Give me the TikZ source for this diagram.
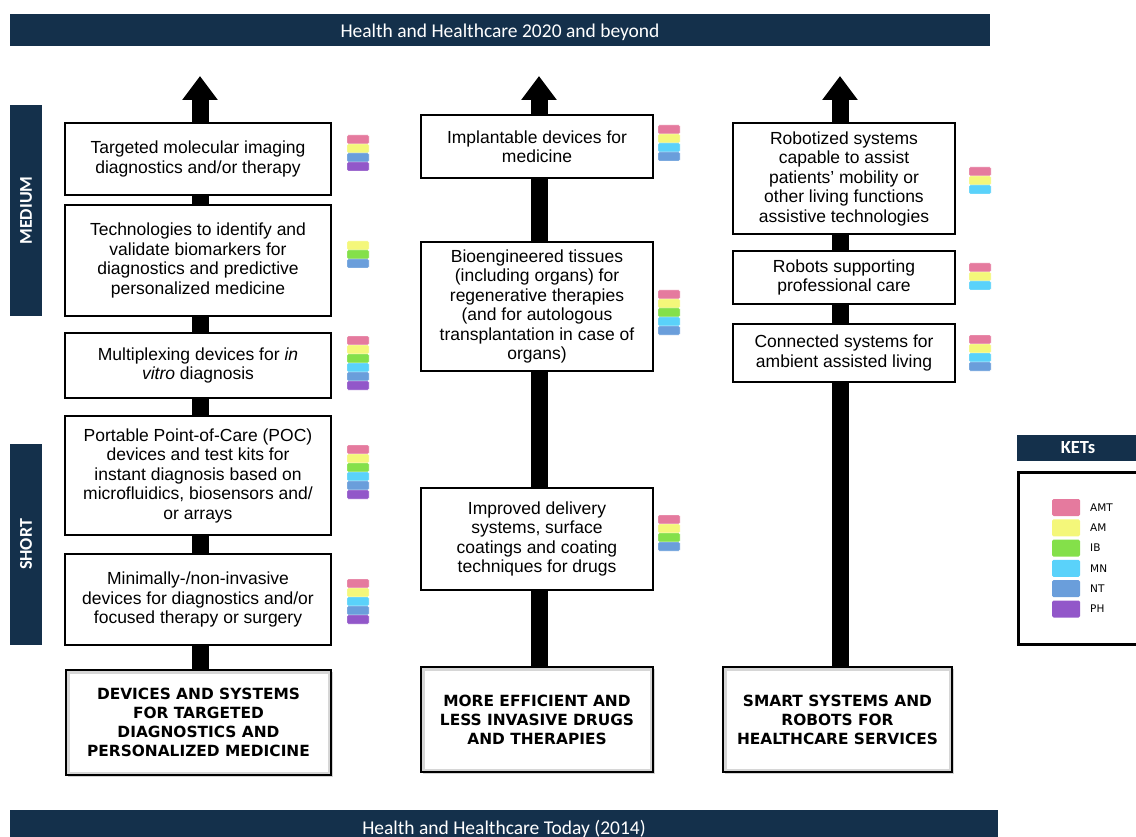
\documentclass[tikz,border=0pt]{standalone}
\usepackage{fontspec}
\setmainfont{Liberation Sans}
\newfontfamily\calfont{Carlito}
\newfontfamily\verdfont{DejaVu Sans}
\usetikzlibrary{arrows.meta,shadows,backgrounds}
\definecolor{navy}{HTML}{14304B}
\definecolor{cAMT}{HTML}{E57A9E}
\definecolor{cAM}{HTML}{F4F77A}
\definecolor{cIB}{HTML}{84E04A}
\definecolor{cMN}{HTML}{5AD2FA}
\definecolor{cNT}{HTML}{6A9EDB}
\definecolor{cPH}{HTML}{9257C9}
\newcommand{\ketstack}[3]{%
  \foreach \cc [count=\ii from 0] in {#3} {%
    \fill[\cc, draw=white, line width=0.4pt, rounded corners=1pt] (#1,#2+\ii*9) rectangle ++(22,9);}}
\begin{document}
\begin{tikzpicture}[x=1pt,y=-1pt,
  banner/.style={fill=navy, text=white, inner sep=0pt, font=\calfont\fontsize{19.5}{20}\selectfont},
  sidelabel/.style={fill=navy, text=white, inner sep=0pt, font=\calfont\bfseries\fontsize{18}{20}\selectfont},
  box/.style={draw=black, line width=2.5pt, fill=white, align=center, inner sep=2pt,
    font=\fontsize{17.5}{19.5}\selectfont},
  basebox/.style={draw=black, line width=2.5pt, fill=white, align=center, inner sep=2pt,
    font=\verdfont\bfseries\fontsize{15.4}{19}\selectfont,
    drop shadow={shadow xshift=2pt, shadow yshift=-2pt, opacity=0.35},
    path picture={\draw[black!45, line width=7pt, opacity=0.35]
      (path picture bounding box.south west) rectangle (path picture bounding box.north east);}},
  bigarrow/.style={line width=17pt, -{Triangle[width=34pt,length=24pt]}},
  legtext/.style={font=\verdfont\fontsize{10.5}{12}\selectfont, anchor=west, inner sep=0pt}
]
\useasboundingbox (0,0) rectangle (1136,837);

% banners
\node[banner, minimum width=980pt, minimum height=32pt, text height=14.5pt, text depth=0pt] (top) at (500,30) {Health and Healthcare 2020 and beyond};
\node[banner, minimum width=988pt, minimum height=32pt, text depth=0pt] (bottom) at (504,826) {\raisebox{-2pt}{Health and Healthcare Today (2014)}};

% side labels
\node[sidelabel, minimum width=32pt, minimum height=211pt] (medium) at (26,210.5) {\rotatebox{90}{MEDIUM}};
\node[sidelabel, minimum width=32pt, minimum height=201pt] (short) at (26,544.5) {\rotatebox{90}{SHORT}};

% column 1
\node[box, minimum width=266pt, minimum height=72pt] (a1) at (198,159) {Targeted molecular imaging\\diagnostics and/or therapy};
\node[box, minimum width=266pt, minimum height=111pt] (a2) at (198,260.5) {Technologies to identify and\\validate biomarkers for\\diagnostics and predictive\\personalized medicine};
\node[box, minimum width=266pt, minimum height=65pt] (a3) at (198,365.5) {Multiplexing devices for \textit{in}\\\textit{vitro} diagnosis};
\node[box, minimum width=266pt, minimum height=119pt] (a4) at (198,475.5) {Portable Point-of-Care (POC)\\devices and test kits for\\instant diagnosis based on\\microfluidics, biosensors and/\\or arrays};
\node[box, minimum width=266pt, minimum height=91pt] (a5) at (198,599.5) {Minimally-/non-invasive\\devices for diagnostics and/or\\focused therapy or surgery};
\node[basebox, minimum width=265pt, minimum height=105pt] (b1) at (198.5,722.5) {DEVICES AND SYSTEMS\\FOR TARGETED\\DIAGNOSTICS AND\\PERSONALIZED MEDICINE};

% column 2
\node[box, minimum width=232pt, minimum height=63pt] (m1) at (537,146.5) {Implantable devices for\\medicine};
\node[box, minimum width=232pt, minimum height=129pt] (m2) at (537,306.5) {Bioengineered tissues\\(including organs) for\\regenerative therapies\\(and for autologous\\transplantation in case of\\organs)};
\node[box, minimum width=232pt, minimum height=102pt] (m3) at (537,539) {Improved delivery\\systems, surface\\coatings and coating\\techniques for drugs};
\node[basebox, minimum width=232pt, minimum height=105pt] (b2) at (537,719.5) {MORE EFFICIENT AND\\LESS INVASIVE DRUGS\\AND THERAPIES};

% column 3
\node[box, minimum width=222pt, minimum height=111pt] (r1) at (844,178.5) {Robotized systems\\capable to assist\\patients' mobility or\\other living functions\\assistive technologies};
\node[box, minimum width=222pt, minimum height=53pt] (r2) at (844,277.5) {Robots supporting\\professional care};
\node[box, minimum width=222pt, minimum height=58pt] (r3) at (844,353) {Connected systems for\\ambient assisted living};
\node[basebox, minimum width=229pt, minimum height=105pt] (b3) at (837.5,719.5) {SMART SYSTEMS AND\\ROBOTS FOR\\HEALTHCARE SERVICES};

% arrows (behind boxes)
\coordinate (t1) at (200,76);
\coordinate (t2) at (539,76);
\coordinate (t3) at (840,76);
\begin{scope}[on background layer]
\draw[bigarrow] (b1.north -| t1) -- (t1);
\draw[bigarrow] (b2.north -| t2) -- (t2);
\draw[bigarrow] (b3.north -| t3) -- (t3);
\end{scope}

% KET stacks
\ketstack{347}{135}{cAMT,cAM,cNT,cPH}
\ketstack{347}{241}{cAM,cIB,cNT}
\ketstack{347}{336}{cAMT,cAM,cIB,cMN,cNT,cPH}
\ketstack{347}{445}{cAMT,cAM,cIB,cMN,cNT,cPH}
\ketstack{347}{579}{cAMT,cAM,cMN,cNT,cPH}
\ketstack{658}{125}{cAMT,cAM,cMN,cNT}
\ketstack{658}{290}{cAMT,cAM,cIB,cMN,cNT}
\ketstack{658}{515}{cAMT,cAM,cIB,cNT}
\ketstack{969}{167}{cAMT,cAM,cMN}
\ketstack{969}{263}{cAMT,cAM,cMN}
\ketstack{969}{335}{cAMT,cAM,cMN,cNT}

% legend
\node[fill=navy, text=white, inner sep=0pt, minimum width=122pt, minimum height=26pt,
  font=\calfont\bfseries\fontsize{18.5}{20}\selectfont] (kets) at (1078,448) {KETs};
\draw[line width=3pt] (1018,472) -- (1142,472) -- (1142,644) -- (1018,644) -- cycle;
\foreach \cc/\lab [count=\ii from 0] in {cAMT/AMT,cAM/AM,cIB/IB,cMN/MN,cNT/NT,cPH/PH} {
  \fill[\cc, rounded corners=1.5pt] (1052,499+\ii*20.3) rectangle ++(28,17);
  \node[legtext] (leg\ii) at (1090,507.5+\ii*20.3) {\lab};
}
\end{tikzpicture}
\end{document}
